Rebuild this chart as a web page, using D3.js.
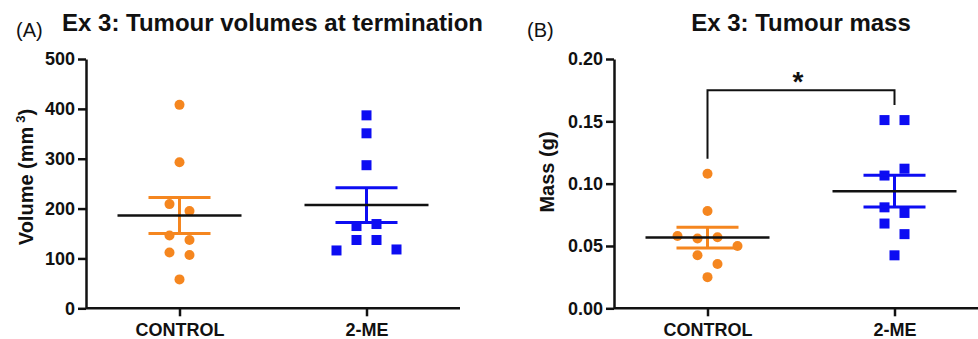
<!DOCTYPE html>
<html>
<head>
    <title>Ex 3: Tumour volumes and mass</title>
    <script src="https://d3js.org/d3.v7.min.js"></script>
    <style type="text/css">
        body {
            margin: 0;
            background-color: #fff;
            font-family: Arial, "Liberation Sans", sans-serif;
        }

        .axis path, .axis line {
            stroke: #111;
            stroke-width: 2.5px;
        }

        .axis text {
            font-family: Arial, "Liberation Sans", sans-serif;
            font-size: 18px;
            font-weight: bold;
            fill: #111;
        }

        .title {
            font-size: 24px;
            font-weight: bold;
            fill: #111;
        }

        .panel-tag {
            font-size: 20px;
            fill: #111;
        }

        .ylabel {
            font-size: 20px;
            font-weight: bold;
            fill: #111;
        }
    </style>
</head>
<body>

<div id="chart"></div>

<script type="text/javascript">
    // groups
    const groups = ["CONTROL", "2-ME"];

    // (A) tumour volume, mm3 -- listed left-to-right within each row of the scatter
    const ctrlVolume = [408, 293, 209, 195, 146, 137, 112, 107, 58];
    const meVolume = [387, 351, 287, 165, 169, 116, 137, 137, 118];
    const volumeMean = [186, 207];
    const volumeSem = [36, 35];
    const volumeTicks = [0, 100, 200, 300, 400, 500];

    // (B) tumour mass, g
    const ctrlMass = [0.108, 0.078, 0.058, 0.056, 0.057, 0.050, 0.0425, 0.0355, 0.025];
    const meMass = [0.151, 0.151, 0.1065, 0.112, 0.081, 0.0765, 0.068, 0.0595, 0.0425];
    const massMean = [0.0567, 0.094];
    const massSem = [0.0084, 0.0127];
    const massTicks = [0, 0.05, 0.10, 0.15, 0.20];

    const colors = { "CONTROL": "#f5861f", "2-ME": "#0d0df2" };

    const W = 978, H = 339;
    const svg = d3.select("#chart").append("svg")
        .attr("width", W)
        .attr("height", H);

    const yBottom = 308.3, yTop = 59;
    const symbol = 10;       // symbol size in px
    const rowGap = 11;       // points closer than this (px) share a row

    // Prism-like scatter: rows of nearby values, spread around the column centre
    function scatterLayout(values, y) {
        const idx = d3.range(values.length).sort((a, b) => values[b] - values[a]);
        const rows = [];
        let row = null;
        idx.forEach(i => {
            if (row && y(values[i]) - y(values[row[0]]) <= rowGap) row.push(i);
            else { row = [i]; rows.push(row); }
        });
        const off = new Array(values.length);
        rows.forEach(r => {
            r.sort((a, b) => a - b);
            r.forEach((i, k) => off[i] = (k - (r.length - 1) / 2) * symbol * 2);
        });
        return values.map((v, i) => ({ value: v, dx: off[i] }));
    }

    function drawPanel(opt) {
        const g = svg.append("g");

        const x = d3.scalePoint()
            .domain(groups)
            .range([opt.left, opt.left + 374])
            .padding(0.5);

        const y = d3.scaleLinear()
            .domain(opt.domain)
            .range([yBottom, yTop]);

        g.append("g")
            .attr("class", "axis")
            .attr("transform", `translate(0,${yBottom})`)
            .call(d3.axisBottom(x).tickSizeInner(8).tickSizeOuter(0).tickPadding(7))
            .select(".domain").attr("d", `M${opt.left},0H${opt.left + 374}`);

        g.append("g")
            .attr("class", "axis")
            .attr("transform", `translate(${opt.left},0)`)
            .call(d3.axisLeft(y).tickValues(opt.ticks).tickFormat(opt.format)
                .tickSizeInner(8).tickSizeOuter(0).tickPadding(3));

        const series = [opt.ctrl, opt.me];
        groups.forEach((grp, gi) => {
            const cx = x(grp);
            const pts = scatterLayout(series[gi], y);
            const col = colors[grp];

            if (gi === 0) {
                g.append("g").selectAll("circle")
                    .data(pts)
                    .join("circle")
                    .attr("cx", d => cx + d.dx)
                    .attr("cy", d => y(d.value))
                    .attr("r", symbol / 2)
                    .attr("fill", col);
            } else {
                g.append("g").selectAll("rect")
                    .data(pts)
                    .join("rect")
                    .attr("x", d => cx + d.dx - symbol / 2)
                    .attr("y", d => y(d.value) - symbol / 2)
                    .attr("width", symbol)
                    .attr("height", symbol)
                    .attr("fill", col);
            }

            // mean and SEM
            const m = opt.mean[gi], s = opt.sem[gi];
            const eb = g.append("g")
                .attr("stroke", col)
                .attr("stroke-width", 3);
            eb.append("line")
                .attr("x1", cx).attr("x2", cx)
                .attr("y1", y(m - s)).attr("y2", y(m + s));
            [m - s, m + s].forEach(v => {
                eb.append("line")
                    .attr("x1", cx - 31).attr("x2", cx + 31)
                    .attr("y1", y(v)).attr("y2", y(v));
            });
            g.append("line")
                .attr("x1", cx - 62).attr("x2", cx + 62)
                .attr("y1", y(m)).attr("y2", y(m))
                .attr("stroke", "#111")
                .attr("stroke-width", 2.5);
        });

        g.append("text")
            .attr("class", "title")
            .attr("x", opt.titleX)
            .attr("y", 30.5)
            .attr("text-anchor", "middle")
            .text(opt.title);

        g.append("text")
            .attr("class", "panel-tag")
            .attr("x", opt.tagX)
            .attr("y", 36.5)
            .text(opt.tag);

        const yl = g.append("text")
            .attr("class", "ylabel")
            .attr("transform", `translate(${opt.labelX},${opt.labelY}) rotate(-90)`)
            .attr("text-anchor", "middle");
        opt.label(yl);

        return { x, y, g };
    }

    drawPanel({
        left: 86, domain: [0, 500], ticks: volumeTicks, format: d3.format("d"),
        ctrl: ctrlVolume, me: meVolume, mean: volumeMean, sem: volumeSem,
        title: "Ex 3: Tumour volumes at termination", titleX: 272.5,
        tag: "(A)", tagX: 16,
        labelX: 33, labelY: 177,
        label: t => {
            t.append("tspan").text("Volume (mm");
            t.append("tspan").attr("dx", 4).attr("dy", -8).attr("font-size", 13).text("3");
            t.append("tspan").attr("dy", 8).text(")");
        }
    });

    const B = drawPanel({
        left: 614, domain: [0, 0.2], ticks: massTicks, format: d3.format(".2f"),
        ctrl: ctrlMass, me: meMass, mean: massMean, sem: massSem,
        title: "Ex 3: Tumour mass", titleX: 801,
        tag: "(B)", tagX: 527,
        labelX: 554, labelY: 172,
        label: t => t.text("Mass (g)")
    });

    // significance bracket
    const bracketTop = 0.175, bracketLeftEnd = 0.12, bracketRightEnd = 0.163;
    const x0 = B.x("CONTROL"), x1 = B.x("2-ME");
    B.g.append("path")
        .attr("d", `M${x0},${B.y(bracketLeftEnd)}V${B.y(bracketTop)}H${x1}V${B.y(bracketRightEnd)}`)
        .attr("fill", "none")
        .attr("stroke", "#111")
        .attr("stroke-width", 2);
    B.g.append("text")
        .attr("x", (x0 + x1) / 2 - 3)
        .attr("y", B.y(bracketTop) + 1)
        .attr("text-anchor", "middle")
        .attr("font-size", 28)
        .attr("font-weight", "bold")
        .attr("fill", "#111")
        .text("*");
</script>

</body>
</html>
